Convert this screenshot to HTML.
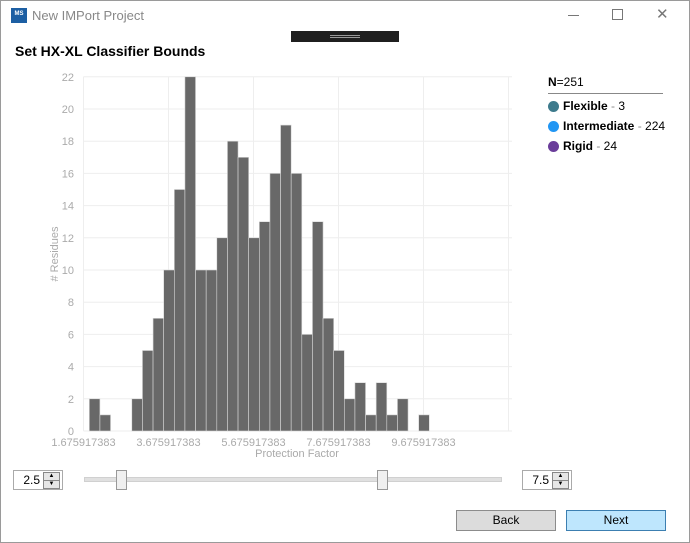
<!DOCTYPE html>
<html><head><meta charset="utf-8"><style>
body{margin:0;width:690px;height:543px;overflow:hidden;background:#fff;font-family:"Liberation Sans",sans-serif;position:relative}
.win{position:absolute;left:0;top:0;width:688px;height:541px;border:1px solid #9a9a9a;background:#fff}
.abs{position:absolute}
.spin{position:absolute;top:470px;height:18px;border:1px solid #aaa;background:#fff;font-size:12px}
.spin .v{position:absolute;right:22px;top:2px}
.spin .b{position:absolute;right:2px;width:15px;height:7px;border:1px solid #888;background:#e6e6e6;font-size:6px;line-height:7px;text-align:center}
.btn{position:absolute;top:510px;width:98px;height:19px;border:1px solid #8c8c8c;font-size:12px;text-align:center;line-height:19px}
.leg{position:absolute;left:548px;font-size:12px;display:flex;align-items:center}
.dot{width:11px;height:11px;border-radius:50%;margin-right:4px}
</style></head><body>
<div class="win"></div>
<div class="abs" style="left:11px;top:8px;width:16px;height:15px;background:#1d5fa3;color:#fff;font-size:6px;font-weight:bold;text-align:center;line-height:12px">MS</div>
<div class="abs" style="left:32px;top:8px;font-size:13px;color:#888">New IMPort Project</div>
<div class="abs" style="left:568px;top:15px;width:11px;height:1px;background:#777"></div>
<div class="abs" style="left:612px;top:9px;width:9px;height:9px;border:1px solid #777"></div>
<div class="abs" style="left:656px;top:5px;font-size:15px;color:#777">✕</div>
<div class="abs" style="left:291px;top:31px;width:108px;height:11px;background:#1f1f1f"><div style="margin:4px auto 0;width:30px;height:1px;border-top:1px solid #999;border-bottom:1px solid #999"></div></div>
<div class="abs" style="left:15px;top:43px;font-size:14px;font-weight:bold">Set HX-XL Classifier Bounds</div>

<svg class="abs" style="left:0;top:0" width="690" height="543">
<g id="grid"></g><g id="bars"></g><g id="ticks"></g>
<text x="58" y="254" transform="rotate(-90 58 254)" text-anchor="middle" font-size="11" fill="#aaa"># Residues</text>
<text x="297" y="457" text-anchor="middle" font-size="11" fill="#aaa">Protection Factor</text>
</svg>

<div class="abs" style="left:548px;top:75px;font-size:12px"><b>N</b>=251</div>
<div class="abs" style="left:548px;top:93px;width:115px;height:1px;background:#888"></div>
<div class="leg" style="top:99px"><div class="dot" style="background:#3d7a8c"></div><b>Flexible</b>&nbsp;<span style="color:#888">-</span>&nbsp;3</div>
<div class="leg" style="top:119px"><div class="dot" style="background:#2196f3"></div><b>Intermediate</b>&nbsp;<span style="color:#888">-</span>&nbsp;224</div>
<div class="leg" style="top:139px"><div class="dot" style="background:#6a3d9a"></div><b>Rigid</b>&nbsp;<span style="color:#888">-</span>&nbsp;24</div>

<div class="spin" style="left:13px;width:48px"><span class="v">2.5</span><div class="b" style="top:1px">▲</div><div class="b" style="top:9px">▼</div></div>
<div class="abs" style="left:84px;top:477px;width:416px;height:3px;background:#e0e0e0;border:1px solid #d0d0d0"></div>
<div class="abs" style="left:116px;top:470px;width:9px;height:18px;background:#f0f0f0;border:1px solid #999"></div>
<div class="abs" style="left:377px;top:470px;width:9px;height:18px;background:#f0f0f0;border:1px solid #999"></div>
<div class="spin" style="left:522px;width:48px"><span class="v">7.5</span><div class="b" style="top:1px">▲</div><div class="b" style="top:9px">▼</div></div>
<div class="btn" style="left:456px;background:#dcdcdc">Back</div>
<div class="btn" style="left:566px;background:#bee6fd;border-color:#3c7fb1">Next</div>

<script>
const counts=[2,1,0,0,2,5,7,10,15,22,10,10,12,18,17,12,13,16,19,16,6,13,7,5,2,3,1,3,1,2,0,1];
const binStart=1.8125;
const binWidth=0.25;
const xTicks=[1.675917383,3.675917383,5.675917383,7.675917383,9.675917383];
const yTicks=[0,2,4,6,8,10,12,14,16,18,20,22];
const NS='http://www.w3.org/2000/svg';
const x0=83.5,xScale=42.5,y0=431,yScale=16.1;
function sx(v){return x0+(v-1.675917383)*xScale;}
function sy(v){return y0-v*yScale;}
const grid=document.getElementById('grid'),bars=document.getElementById('bars'),ticks=document.getElementById('ticks');
function mk(tag,attrs,parent){const e=document.createElementNS(NS,tag);for(const k in attrs)e.setAttribute(k,attrs[k]);parent.appendChild(e);return e;}
yTicks.forEach(v=>{
 const l=mk('line',{x1:x0,x2:512,y1:sy(v),y2:sy(v),stroke:'#eee'},grid);
 
 
 const t=mk('text',{x:74,y:sy(v)+4,'text-anchor':'end','font-size':11,fill:'#aaa'},ticks);
 t.textContent=v;
 
 
});
xTicks.concat([11.675917383]).forEach(v=>{
 const l=mk('line',{x1:sx(v),x2:sx(v),y1:sy(22),y2:y0,stroke:'#eee'},grid);
 
 
});
xTicks.forEach(v=>{
 const t=mk('text',{x:sx(v),y:446,'text-anchor':'middle','font-size':11,fill:'#aaa'},ticks);
 t.textContent=v.toFixed(9);
 
 
});
counts.forEach((c,i)=>{
 if(!c)return;
 const a=binStart+i*binWidth;
 const r=mk('rect',{x:sx(a),y:sy(c),width:sx(a+binWidth)-sx(a),height:c*yScale,fill:'#686868',stroke:'#d8d8d8','stroke-width':0.6},bars);
 
 
});
</script>
</body></html>
